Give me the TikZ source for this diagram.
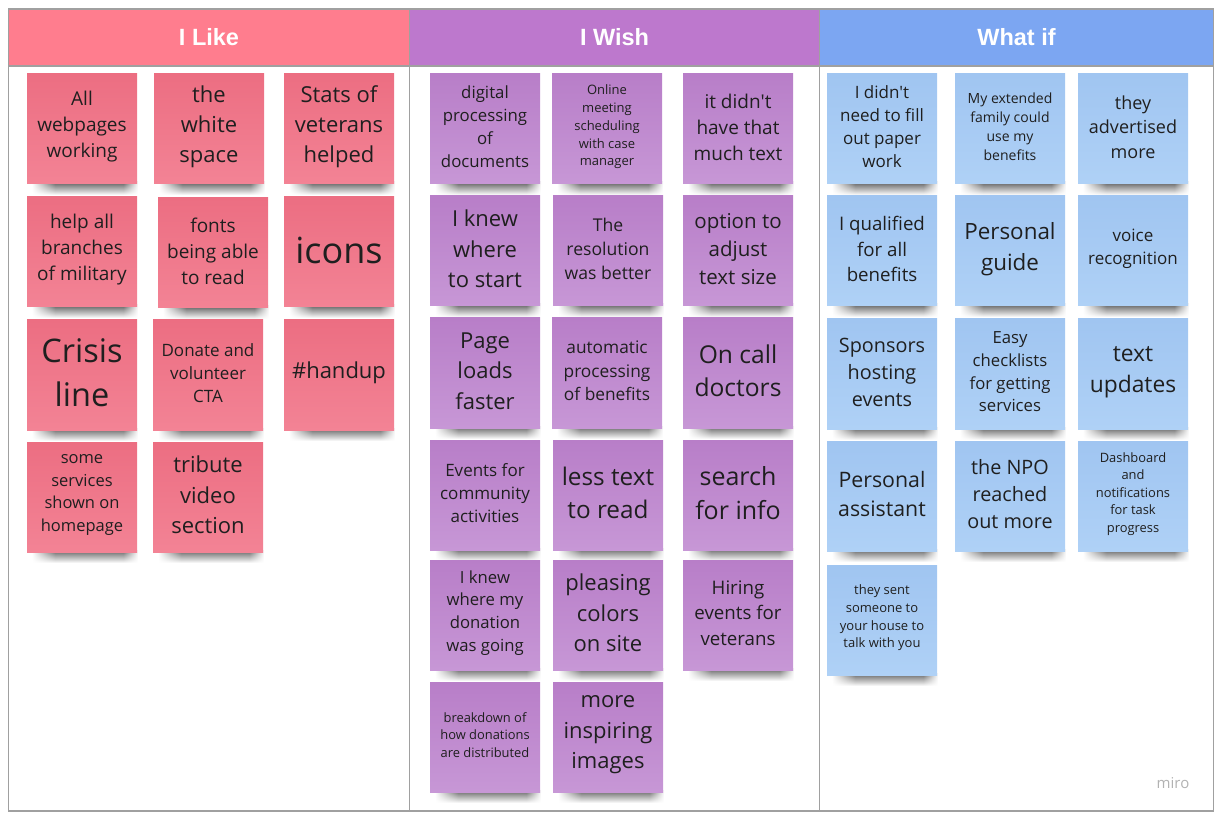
\documentclass[tikz,border=0pt]{standalone}
\usepackage{fontspec}
\usepackage{tikz}
\usetikzlibrary{fadings}
\newfontfamily\opensans{Open Sans}
\newfontfamily\headfont{Liberation Sans}
\definecolor{likehead}{RGB}{255,125,142}
\definecolor{wishhead}{RGB}{189,120,205}
\definecolor{whathead}{RGB}{124,166,242}
\definecolor{liketop}{RGB}{236,110,130}
\definecolor{likebot}{RGB}{243,131,149}
\definecolor{wishtop}{RGB}{184,126,200}
\definecolor{wishbot}{RGB}{199,151,214}
\definecolor{whattop}{RGB}{160,197,241}
\definecolor{whatbot}{RGB}{175,209,246}
\definecolor{framegray}{RGB}{160,160,160}
\pgfdeclarehorizontalshading{sideshade}{100bp}{color(0bp)=(black); color(25bp)=(black); color(36bp)=(white); color(68bp)=(white); color(75bp)=(black); color(100bp)=(black)}
\pgfdeclarefading{sidefade}{\pgfuseshading{sideshade}}
\tikzset{
	stickynote/.style={minimum width=110, minimum height=110, inner sep=0, top color=#1top, bottom color=#1bot},
	stickytext/.style={align=center, inner sep=0, text=black!88},
	stickyshadow/.style={top color=black!62, bottom color=white, path fading=sidefade},
	headbox/.style={minimum height=57, inner sep=0, text=white, font=\headfont\bfseries\fontsize{23.5}{28}\selectfont}
}
% \sticky[colour](x,y){name}{size}{skip}{text}
\def\sticky[#1](#2,#3)#4#5#6#7{%
	\shade[stickyshadow] (#2-50,#3+53) rectangle (#2+56,#3+66);
	\node[stickynote=#1] (#4) at (#2,#3) {};
	\node[stickytext, font=\opensans\fontsize{#5}{#6}\selectfont] (#4t) at ([yshift=2]#4.center) {#7};}

\begin{document}
\begin{tikzpicture}[x=1pt, y=-1pt]
			%%%%% START %%%%%
			\useasboundingbox (0,0) rectangle (1221,818);
			
			\node[headbox, fill=likehead, minimum width=401] (hlike) at (209,37.5) {I Like};
			\node[headbox, fill=wishhead, minimum width=410] (hwish) at (614.5,37.5) {I Wish};
			\node[headbox, fill=whathead, minimum width=394] (hwhat) at (1016.5,37.5) {What if};
			
			\draw[framegray, line width=1.2] (8.5,9) rectangle (1213.5,811);
			\draw[framegray, line width=1.2] (8.5,66) -- (1213.5,66);
			\draw[framegray, line width=1.2] (409.5,9) -- (409.5,811);
			\draw[framegray, line width=1.2] (819.5,9) -- (819.5,811);
			
			% I Like
			\sticky[like](82,129){l1}{19}{26}{All\\webpages\\working}
			\sticky[like](209,129){l2}{22}{30}{the\\white\\space}
			\sticky[like](339,129){l3}{22}{30}{Stats of\\veterans\\helped}
			\sticky[like](82,252){l4}{19}{26}{help all\\branches\\of military}
			\sticky[like](213,253){l5}{19}{26}{fonts\\being able\\to read}
			\sticky[like](339,252){l6}{36}{44}{icons}
			\sticky[like](82,375){l7}{32.5}{44}{Crisis\\line}
			\sticky[like](208,375){l8}{17}{23}{Donate and\\volunteer\\CTA}
			\sticky[like](339,375){l9}{22}{30}{\#handup}
			\sticky[like](82,497){l10}{16.5}{22.5}{some\\services\\shown on\\homepage}
			\sticky[like](208,497){l11}{22}{30.5}{tribute\\video\\section}
			
			% I Wish
			\sticky[wish](485,129){w1}{16.8}{23}{digital\\processing\\of\\documents}
			\sticky[wish](607,129){w2}{13}{17.7}{Online\\meeting\\scheduling\\with case\\manager}
			\sticky[wish](738,129){w3}{19}{26}{it didn't\\have that\\much text}
			\sticky[wish](485,251){w4}{22}{30.5}{I knew\\where\\to start}
			\sticky[wish](608,251){w5}{17.6}{24}{The\\resolution\\was better}
			\sticky[wish](738,251){w6}{20.5}{28}{option to\\adjust\\text size}
			\sticky[wish](485,373){w7}{22}{30.5}{Page\\loads\\faster}
			\sticky[wish](607,373){w8}{17.3}{23.5}{automatic\\processing\\of benefits}
			\sticky[wish](738,373){w9}{24.6}{33.5}{On call\\doctors}
			\sticky[wish](485,495){w10}{17}{23}{Events for\\community\\activities}
			\sticky[wish](608,495){w11}{24.3}{33}{less text\\to read}
			\sticky[wish](738,495){w12}{25}{34}{search\\for info}
			\sticky[wish](485,615){w13}{16.7}{22.7}{I knew\\where my\\donation\\was going}
			\sticky[wish](608,615){w14}{22}{30.5}{pleasing\\colors\\on site}
			\sticky[wish](738,615){w15}{18.7}{25.5}{Hiring\\events for\\veterans}
			\sticky[wish](485,737){w16}{12.9}{17.5}{breakdown of\\how donations\\are distributed}
			\sticky[wish](608,737){w17}{22}{30.5}{more\\inspiring\\images}
			
			% What if
			\sticky[what](882,129){f1}{17}{23}{I didn't\\need to fill\\out paper\\work}
			\sticky[what](1010,129){f2}{14}{19}{My extended\\family could\\use my\\benefits}
			\sticky[what](1133,129){f3}{18}{24.5}{they\\advertised\\more}
			\sticky[what](882,251){f4}{18.7}{25.5}{I qualified\\for all\\benefits}
			\sticky[what](1010,251){f5}{22.4}{30.5}{Personal\\guide}
			\sticky[what](1133,251){f6}{17}{23}{voice\\recognition}
			\sticky[what](882,374){f7}{19.8}{27}{Sponsors\\hosting\\events}
			\sticky[what](1010,374){f8}{16.7}{22.7}{Easy\\checklists\\for getting\\services}
			\sticky[what](1133,374){f9}{22.8}{31}{text\\updates}
			\sticky[what](882,496){f10}{21.3}{29}{Personal\\assistant}
			\sticky[what](1010,496){f11}{19.8}{27}{the NPO\\reached\\out more}
			\sticky[what](1133,496){f12}{12.9}{17.5}{Dashboard\\and\\notifications\\for task\\progress}
			\sticky[what](882,620){f13}{13}{17.7}{they sent\\someone to\\your house to\\talk with you}
			
			\node[text=black!30, font=\opensans\fontsize{15}{18}\selectfont] (miro) at (1173,783) {miro};
			%%%%% END %%%%%
\end{tikzpicture}
\end{document}
